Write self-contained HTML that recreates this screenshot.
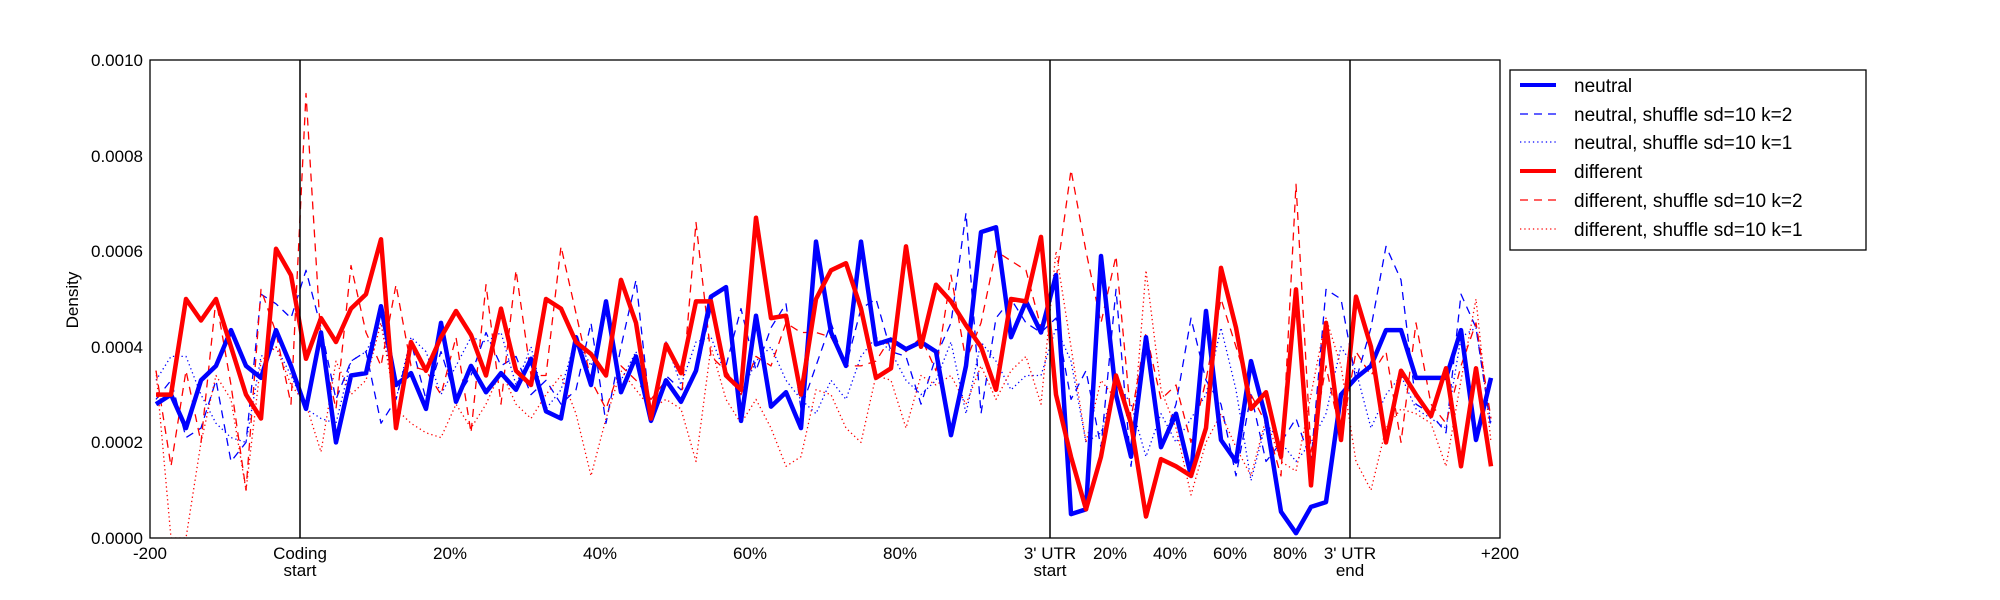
<!DOCTYPE html>
<html><head><meta charset="utf-8"><style>
html,body{margin:0;padding:0;background:#fff;}
svg{display:block;font-family:"Liberation Sans",sans-serif;}
</style></head><body>
<svg id="s" width="2000" height="600" xmlns="http://www.w3.org/2000/svg">
<rect width="2000" height="600" fill="#fff"/>
<defs><clipPath id="c"><rect x="150" y="60" width="1350" height="478"/></clipPath></defs>
<g id="lines" clip-path="url(#c)"></g>
<line x1="300" y1="60" x2="300" y2="538" stroke="#000" stroke-width="1.5"/>
<line x1="1050" y1="60" x2="1050" y2="538" stroke="#000" stroke-width="1.5"/>
<line x1="1350" y1="60" x2="1350" y2="538" stroke="#000" stroke-width="1.5"/>
<rect x="150" y="60" width="1350" height="478" fill="none" stroke="#000" stroke-width="1.3"/>
<g id="ticks" stroke="#000" stroke-width="1"></g>
<g font-size="17" fill="#000">
<text x="143" y="66" text-anchor="end">0.0010</text>
<text x="143" y="162" text-anchor="end">0.0008</text>
<text x="143" y="257" text-anchor="end">0.0006</text>
<text x="143" y="353" text-anchor="end">0.0004</text>
<text x="143" y="448" text-anchor="end">0.0002</text>
<text x="143" y="544" text-anchor="end">0.0000</text>
<text x="150" y="559" text-anchor="middle">-200</text>
<text x="300" y="559" text-anchor="middle">Coding</text>
<text x="300" y="576" text-anchor="middle">start</text>
<text x="450" y="559" text-anchor="middle">20%</text>
<text x="600" y="559" text-anchor="middle">40%</text>
<text x="750" y="559" text-anchor="middle">60%</text>
<text x="900" y="559" text-anchor="middle">80%</text>
<text x="1050" y="559" text-anchor="middle">3' UTR</text>
<text x="1050" y="576" text-anchor="middle">start</text>
<text x="1110" y="559" text-anchor="middle">20%</text>
<text x="1170" y="559" text-anchor="middle">40%</text>
<text x="1230" y="559" text-anchor="middle">60%</text>
<text x="1290" y="559" text-anchor="middle">80%</text>
<text x="1350" y="559" text-anchor="middle">3' UTR</text>
<text x="1350" y="576" text-anchor="middle">end</text>
<text x="1500" y="559" text-anchor="middle">+200</text>
<text transform="translate(78,300) rotate(-90)" text-anchor="middle">Density</text>
</g>
<g>
<rect x="1510" y="70" width="356" height="180" fill="#fff" stroke="#000" stroke-width="1.3"/>
<line x1="1520" y1="85" x2="1556" y2="85" stroke="#0000ff" stroke-width="4"/>
<line x1="1520" y1="114" x2="1556" y2="114" stroke="#0000ff" stroke-width="1.3" stroke-dasharray="8,6"/>
<line x1="1520" y1="142" x2="1556" y2="142" stroke="#0000ff" stroke-width="1.3" stroke-dasharray="1.3,3"/>
<line x1="1520" y1="171" x2="1556" y2="171" stroke="#ff0000" stroke-width="4"/>
<line x1="1520" y1="200" x2="1556" y2="200" stroke="#ff0000" stroke-width="1.3" stroke-dasharray="8,6"/>
<line x1="1520" y1="229" x2="1556" y2="229" stroke="#ff0000" stroke-width="1.3" stroke-dasharray="1.3,3"/>
<g font-size="19" fill="#000">
<text x="1574" y="92">neutral</text>
<text x="1574" y="121">neutral, shuffle sd=10 k=2</text>
<text x="1574" y="149">neutral, shuffle sd=10 k=1</text>
<text x="1574" y="178">different</text>
<text x="1574" y="207">different, shuffle sd=10 k=2</text>
<text x="1574" y="236">different, shuffle sd=10 k=1</text>
</g>
</g>
<script>
var ns="http://www.w3.org/2000/svg";
var bs=[2.8,3.0,2.3,3.3,3.6,4.35,3.6,3.35,4.35,3.6,2.7,4.3,2.0,3.4,3.45,4.85,3.2,3.45,2.7,4.5,2.85,3.6,3.05,3.45,3.1,3.75,2.65,2.5,4.2,3.2,4.95,3.05,3.8,2.45,3.3,2.85,3.5,5.05,5.25,2.45,4.65,2.75,3.05,2.3,6.2,4.3,3.6,6.2,4.05,4.15,3.95,4.1,3.9,2.15,3.6,6.4,6.5,4.2,4.95,4.3,5.5,0.5,0.6,5.9,3.0,1.7,4.2,1.9,2.6,1.3,4.75,2.05,1.6,3.7,2.5,0.55,0.1,0.65,0.75,3.0,3.35,3.6,4.35,4.35,3.35,3.35,3.35,4.35,2.05,3.35];
var rs=[3.0,3.0,5.0,4.55,5.0,4.0,3.0,2.5,6.05,5.5,3.75,4.6,4.1,4.8,5.1,6.25,2.3,4.1,3.5,4.2,4.75,4.25,3.4,4.8,3.5,3.2,5.0,4.8,4.1,3.85,3.4,5.4,4.5,2.5,4.05,3.45,4.95,4.95,3.4,3.1,6.7,4.6,4.65,3.0,5.0,5.6,5.75,4.8,3.35,3.55,6.1,4.0,5.3,4.95,4.45,4.0,3.1,5.0,4.95,6.3,3.0,1.7,0.6,1.7,3.4,2.4,0.45,1.65,1.5,1.3,2.3,5.65,4.4,2.7,3.05,1.7,5.2,1.1,4.5,2.05,5.05,4.0,2.0,3.5,3.0,2.55,3.55,1.5,3.55,1.5];
var bd=[2.9,3.3,2.1,2.3,3.3,1.6,2.0,5.1,4.9,4.6,5.6,4.4,2.9,3.7,3.9,2.4,2.9,4.1,2.9,3.9,2.9,3.4,4.3,3.6,3.8,3.0,3.3,2.8,3.1,4.5,2.4,4.0,5.4,2.5,3.4,3.1,3.4,4.8,3.6,4.8,3.5,4.4,4.9,2.7,3.6,4.5,3.6,4.8,5.0,3.9,3.8,2.8,3.8,4.5,6.8,2.6,4.6,5.0,4.5,4.3,4.6,2.9,3.5,1.9,5.2,1.5,4.3,1.9,2.8,4.6,3.3,2.8,1.3,3.0,1.6,2.0,2.5,1.6,5.2,5.0,3.3,4.4,6.1,5.4,2.8,2.6,2.2,5.1,4.4,2.3];
var bo=[3.3,3.8,3.8,3.0,2.4,2.1,2.0,3.8,4.0,3.4,2.7,2.5,2.4,3.7,3.9,4.5,2.9,4.2,3.9,3.0,3.6,4.2,4.1,4.3,3.2,4.0,2.7,3.1,4.2,3.6,4.7,3.3,3.9,2.5,4.1,3.2,4.1,4.2,3.4,3.0,3.7,4.0,3.3,2.9,2.6,3.3,2.9,3.8,4.2,3.9,3.3,3.0,3.3,4.1,2.6,4.1,3.7,3.1,3.4,3.4,4.4,3.7,2.0,2.2,3.3,2.8,1.7,2.6,2.0,2.5,3.0,4.4,3.1,1.2,2.4,2.0,1.6,2.0,2.6,4.0,3.5,2.3,3.0,3.4,2.7,2.5,2.3,4.2,4.4,2.4];
var rd=[3.5,1.5,3.5,2.0,5.0,3.2,1.0,5.2,4.3,2.8,9.3,4.1,2.7,5.7,4.3,3.6,5.3,3.6,3.5,3.0,4.2,2.2,5.3,2.8,5.6,3.4,3.4,6.1,4.7,3.3,2.7,3.6,3.3,2.9,3.3,2.8,6.6,3.8,3.5,3.0,3.8,3.6,4.5,4.3,4.3,4.2,3.6,3.6,3.7,4.2,3.9,4.2,3.5,5.5,3.7,4.5,6.0,5.8,5.6,4.4,5.4,7.7,6.0,4.5,5.9,2.5,4.3,2.9,3.2,2.0,3.3,5.0,4.0,3.0,2.4,1.3,7.4,1.8,3.6,2.1,3.9,3.4,3.9,2.0,4.5,2.8,2.4,3.6,4.5,2.5];
var ro=[3.5,0.0,0.0,2.0,3.4,2.9,1.0,3.7,4.0,3.2,2.8,1.8,3.7,3.0,3.3,4.5,2.7,2.4,2.2,2.1,2.8,2.3,2.8,3.5,2.8,2.5,3.0,3.4,2.6,1.3,2.5,3.5,3.1,2.7,2.9,2.7,1.6,4.0,2.9,2.4,2.9,2.3,1.5,1.7,3.1,3.0,2.3,2.0,3.4,3.3,2.3,3.4,3.2,3.4,2.8,3.6,2.9,3.5,3.8,2.8,6.0,4.0,2.0,3.3,2.9,1.7,5.6,3.1,2.3,0.9,2.0,2.6,1.9,1.3,2.5,1.6,1.4,3.0,4.6,3.6,1.6,1.0,2.3,2.7,2.6,2.4,1.5,3.3,5.0,2.0];
function pts(a){return a.map(function(v,i){return (156+15*i).toFixed(1)+","+(538-v*47.8).toFixed(1)}).join(" ");}
var g=document.getElementById("lines");
function add(a,col,w,dash){var p=document.createElementNS(ns,"polyline");p.setAttribute("points",pts(a));p.setAttribute("fill","none");p.setAttribute("stroke",col);p.setAttribute("stroke-width",w);p.setAttribute("stroke-linejoin","round");if(dash)p.setAttribute("stroke-dasharray",dash);g.appendChild(p);}
add(bd,"#0000ff",1.3,"8,6");add(bo,"#0000ff",1.3,"1.3,3");add(rd,"#ff0000",1.3,"8,6");add(ro,"#ff0000",1.3,"1.3,3");
add(bs,"#0000ff",4.5);add(rs,"#ff0000",4.5);
var t=document.getElementById("ticks");
[450,600,750,900,1110,1170,1230,1290].forEach(function(x){t.innerHTML+='<line x1="'+x+'" y1="60" x2="'+x+'" y2="66"/><line x1="'+x+'" y1="538" x2="'+x+'" y2="532"/>';});
[60,155.6,251.2,346.8,442.4,538].forEach(function(y){t.innerHTML+='<line x1="150" y1="'+y+'" x2="156" y2="'+y+'"/><line x1="1500" y1="'+y+'" x2="1494" y2="'+y+'"/>';});
</script>
</svg>
</body></html>
